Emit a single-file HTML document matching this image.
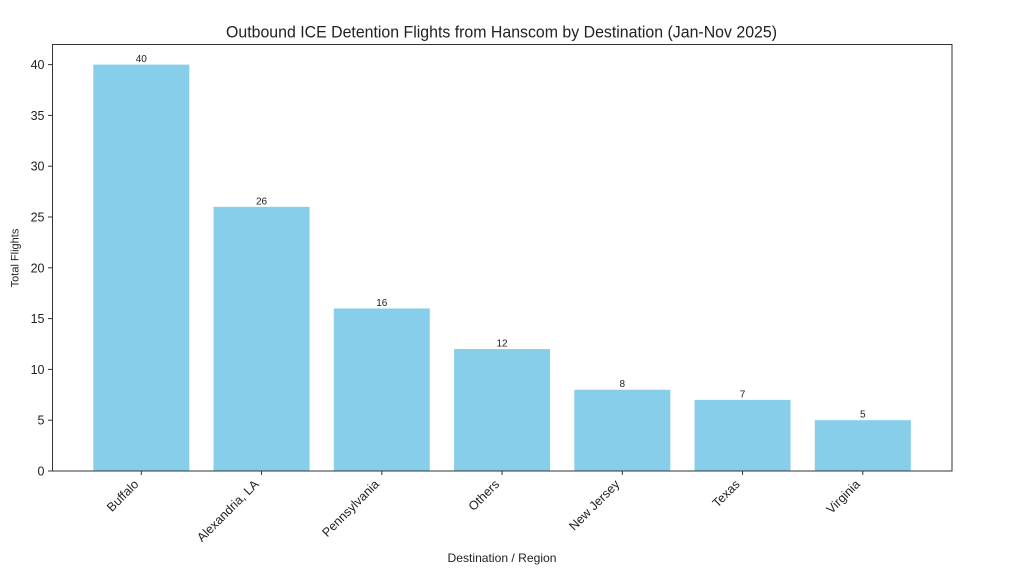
<!DOCTYPE html>
<html>
<head>
<meta charset="utf-8">
<style>
  html, body { margin: 0; padding: 0; background: #ffffff; }
  svg { display: block; }
  text { font-family: "Liberation Sans", "DejaVu Sans", sans-serif; fill: #222222; }
</style>
</head>
<body>
<svg width="1024" height="586" viewBox="0 0 1024 586" xmlns="http://www.w3.org/2000/svg">
  <rect x="0" y="0" width="1024" height="586" fill="#ffffff"/>

  <!-- Title -->
  <text x="501.5" y="37.5" font-size="16.5" text-anchor="middle" textLength="551" lengthAdjust="spacingAndGlyphs">Outbound ICE Detention Flights from Hanscom by Destination (Jan-Nov 2025)</text>

  <!-- Bars -->
  <g fill="#87CEEB">
    <rect x="93.3" y="64.6" width="96" height="406.4"/>
    <rect x="213.55" y="206.84" width="96" height="264.16"/>
    <rect x="333.8" y="308.44" width="96" height="162.56"/>
    <rect x="454.05" y="349.08" width="96" height="121.92"/>
    <rect x="574.3" y="389.72" width="96" height="81.28"/>
    <rect x="694.55" y="399.88" width="96" height="71.12"/>
    <rect x="814.8" y="420.2" width="96" height="50.8"/>
  </g>

  <!-- Value labels -->
  <g font-size="10" text-anchor="middle">
    <text x="141.3" y="62.1">40</text>
    <text x="261.55" y="204.3">26</text>
    <text x="381.8" y="305.9">16</text>
    <text x="502.05" y="346.6">12</text>
    <text x="622.3" y="387.2">8</text>
    <text x="742.55" y="397.4">7</text>
    <text x="862.8" y="417.7">5</text>
  </g>

  <!-- Axes spines -->
  <rect x="52.5" y="44.5" width="899.5" height="426.5" fill="none" stroke="#333333" stroke-width="1"/>

  <!-- Y ticks -->
  <g stroke="#333333" stroke-width="1">
    <line x1="48" y1="471" x2="52.5" y2="471"/>
    <line x1="48" y1="420.2" x2="52.5" y2="420.2"/>
    <line x1="48" y1="369.4" x2="52.5" y2="369.4"/>
    <line x1="48" y1="318.6" x2="52.5" y2="318.6"/>
    <line x1="48" y1="267.8" x2="52.5" y2="267.8"/>
    <line x1="48" y1="217" x2="52.5" y2="217"/>
    <line x1="48" y1="166.2" x2="52.5" y2="166.2"/>
    <line x1="48" y1="115.4" x2="52.5" y2="115.4"/>
    <line x1="48" y1="64.6" x2="52.5" y2="64.6"/>
  </g>
  <g font-size="12.5" text-anchor="end">
    <text x="44.5" y="475.5">0</text>
    <text x="44.5" y="424.7">5</text>
    <text x="44.5" y="373.9">10</text>
    <text x="44.5" y="323.1">15</text>
    <text x="44.5" y="272.3">20</text>
    <text x="44.5" y="221.5">25</text>
    <text x="44.5" y="170.7">30</text>
    <text x="44.5" y="119.9">35</text>
    <text x="44.5" y="69.1">40</text>
  </g>

  <!-- X ticks -->
  <g stroke="#333333" stroke-width="1">
    <line x1="141.3" y1="471" x2="141.3" y2="475"/>
    <line x1="261.55" y1="471" x2="261.55" y2="475"/>
    <line x1="381.8" y1="471" x2="381.8" y2="475"/>
    <line x1="502.05" y1="471" x2="502.05" y2="475"/>
    <line x1="622.3" y1="471" x2="622.3" y2="475"/>
    <line x1="742.55" y1="471" x2="742.55" y2="475"/>
    <line x1="862.8" y1="471" x2="862.8" y2="475"/>
  </g>
  <g font-size="12.5" text-anchor="end">
    <text x="139.3" y="485" transform="rotate(-45 139.3 485)">Buffalo</text>
    <text x="259.55" y="485" transform="rotate(-45 259.55 485)">Alexandria, LA</text>
    <text x="379.8" y="485" transform="rotate(-45 379.8 485)">Pennsylvania</text>
    <text x="500.05" y="485" transform="rotate(-45 500.05 485)">Others</text>
    <text x="620.3" y="485" transform="rotate(-45 620.3 485)">New Jersey</text>
    <text x="740.55" y="485" transform="rotate(-45 740.55 485)">Texas</text>
    <text x="860.8" y="485" transform="rotate(-45 860.8 485)">Virginia</text>
  </g>

  <!-- Axis labels -->
  <text x="502" y="562" font-size="12" text-anchor="middle" textLength="109" lengthAdjust="spacingAndGlyphs">Destination / Region</text>
  <text x="18.5" y="258" font-size="11" text-anchor="middle" transform="rotate(-90 18.5 258)">Total Flights</text>
</svg>
</body>
</html>
